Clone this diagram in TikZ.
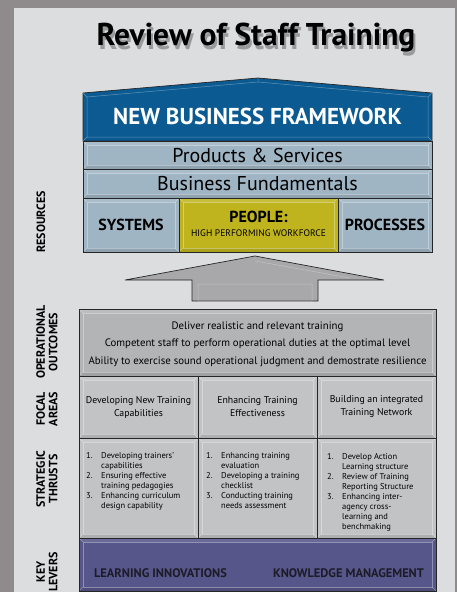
\documentclass[tikz,border=0pt]{standalone}
\usepackage{fontspec}
\setmainfont{PT Sans}
\usetikzlibrary{positioning}
\definecolor{framegrey}{HTML}{8F8B8C}
\definecolor{panelgrey}{HTML}{DCDDDF}
\definecolor{roofblue}{HTML}{0B5A91}
\definecolor{rowblue}{HTML}{9FB5C4}
\definecolor{peopleyellow}{HTML}{BFB41E}
\definecolor{outgrey}{HTML}{B3B4B6}
\definecolor{cellgrey}{HTML}{C2C3C5}
\definecolor{arrowgrey}{HTML}{A8A8AA}
\definecolor{leverpurple}{HTML}{56568A}
\definecolor{levertext}{HTML}{1C1C28}
\begin{document}
\begin{tikzpicture}[x=1pt,y=-1pt]
	\tikzstyle{bevelbox} = [draw=black!85,line width=0.7pt,inner sep=0pt,
		path picture={
			\fill[black,opacity=.10] (path picture bounding box.south west) -- (path picture bounding box.south east)
				-- ++(-4pt,4pt) -- ([shift={(4pt,4pt)}]path picture bounding box.south west) -- cycle;
			\fill[white,opacity=.12] (path picture bounding box.north west) -- (path picture bounding box.north east)
				-- ++(-4pt,-4pt) -- ([shift={(4pt,-4pt)}]path picture bounding box.north west) -- cycle;
			\draw[white,opacity=.35,line width=.5pt] ([shift={(4pt,-4pt)}]path picture bounding box.north west)
				rectangle ([shift={(-4pt,4pt)}]path picture bounding box.south east);
			\draw[white,opacity=.35,line width=.5pt] (path picture bounding box.north west) -- ++(4pt,-4pt);
			\draw[white,opacity=.35,line width=.5pt] (path picture bounding box.north east) -- ++(-4pt,-4pt);
			\draw[white,opacity=.35,line width=.5pt] (path picture bounding box.south west) -- ++(4pt,4pt);
			\draw[white,opacity=.35,line width=.5pt] (path picture bounding box.south east) -- ++(-4pt,4pt);
		}]
	\tikzstyle{rowbox} = [bevelbox,fill=rowblue,minimum width=349pt,font=\fontsize{20}{22}\selectfont]
	\tikzstyle{resbox} = [bevelbox,fill=rowblue,minimum height=54pt,font=\fontsize{16}{18}\selectfont\bfseries]
	\tikzstyle{cellbox} = [bevelbox,fill=cellgrey,minimum width=119pt,align=center,font=\fontsize{9.8}{13}\selectfont]
	\tikzstyle{thrustlist} = [anchor=north west,inner sep=0pt,align=left,font=\fontsize{8.5}{10}\selectfont]
	\tikzstyle{sidelabel} = [rotate=90,align=center,font=\fontsize{12}{12.5}\selectfont\bfseries]
	\tikzstyle{levertitle} = [text=levertext,font=\fontsize{12.4}{14}\selectfont\bfseries]

	% BACKGROUND %
	\fill[framegrey] (0,0) rectangle (457,592);
	\fill[panelgrey] (14,8) rectangle (455,592);
	\useasboundingbox (0,0) rectangle (457,592);

	% TITLE %
	\node[text=black,opacity=.3,font=\fontsize{31.5}{33}\selectfont\bfseries] (titleshadow) at (258,42) {Review of Staff Training};
	\node[font=\fontsize{31.5}{33}\selectfont\bfseries] (title) at (256,38) {Review of Staff Training};

	% FRAMEWORK %
	\filldraw[fill=roofblue,draw=black!85,line width=0.7pt] (83,141) -- (83,93) -- (258,78) -- (432,93) -- (432,141) -- cycle;
	\draw[white,opacity=.35,line width=.5pt] (87,137) -- (87,97) -- (258,82) -- (428,97) -- (428,137) -- cycle;
	\draw[white,opacity=.35,line width=.5pt] (83,93) -- (87,97) (432,93) -- (428,97) (83,141) -- (87,137) (432,141) -- (428,137) (258,78) -- (258,82);
	\node[text=white,font=\fontsize{23}{25}\selectfont\bfseries] (framework) at (257.5,116) {NEW BUSINESS FRAMEWORK};
	\node[rowbox,minimum height=28pt] (products) at (257.5,155) {Products \& Services};
	\node[rowbox,minimum height=29pt] (fundamentals) at (257.5,183.5) {Business Fundamentals};

	% RESOURCES %
	\node[resbox,minimum width=96pt] (systems) at (131,225) {SYSTEMS};
	\node[resbox,fill=peopleyellow,minimum width=159pt] (people) at (258.5,225) {};
	\node[font=\fontsize{16}{18}\selectfont\bfseries] (peopletitle) at (258.5,216.5) {PEOPLE:};
	\node[font=\fontsize{9.5}{10}\selectfont] (peoplesub) at (258.5,233) {HIGH PERFORMING WORKFORCE};
	\node[resbox,minimum width=94pt] (processes) at (385,225) {PROCESSES};

	% ARROW %
	\filldraw[fill=arrowgrey,draw=black!85,line width=0.7pt] (255,256) -- (384,280) -- (318,280) -- (318,301) -- (192,301) -- (192,280) -- (125,280) -- cycle;
	\draw[white,opacity=.3,line width=.5pt] (255,261) -- (350,278) (198,284) rectangle (312,301);

	% OUTCOMES %
	\node[bevelbox,fill=outgrey,minimum width=357pt,minimum height=67pt] (outcomes) at (257.5,342.5) {};
	\node[align=center,font=\fontsize{10.8}{17.5}\selectfont] (outtext) at (257.5,344) {Deliver realistic and relevant training\\Competent staff to perform operational duties at the optimal level\\Ability to exercise sound operational judgment and demostrate resilience};

	% FOCAL AREAS %
	\node[cellbox,minimum height=62pt] (focal1) at (138.5,407) {Developing New Training\\Capabilities};
	\node[cellbox,minimum height=62pt] (focal2) at (257.5,407) {Enhancing Training\\Effectiveness};
	\node[cellbox,minimum height=62pt] (focal3) at (376.5,407) {Building an integrated\\Training Network};

	% STRATEGIC THRUSTS %
	\node[cellbox,minimum height=100pt] (thrust1) at (138.5,488) {};
	\node[cellbox,minimum height=100pt] (thrust2) at (257.5,488) {};
	\node[cellbox,minimum height=100pt] (thrust3) at (376.5,488) {};
	\node[thrustlist] (list1) at (86,451) {\begin{tabular}{@{}p{15pt}@{}l@{}}1. & Developing trainers'\\ & capabilities\\ 2. & Ensuring effective\\ & training pedagogies\\ 3. & Enhancing curriculum\\ & design capability\end{tabular}};
	\node[thrustlist] (list2) at (206,451) {\begin{tabular}{@{}p{15pt}@{}l@{}}1. & Enhancing training\\ & evaluation\\ 2. & Developing a training\\ & checklist\\ 3. & Conducting training\\ & needs assessment\end{tabular}};
	\node[thrustlist] (list3) at (327,452) {\begin{tabular}{@{}p{15pt}@{}l@{}}1. & Develop Action\\ & Learning structure\\ 2. & Review of Training\\ & Reporting Structure\\ 3. & Enhancing inter-\\ & agency cross-\\ & learning and\\ & benchmaking\end{tabular}};

	% KEY LEVERS %
	\node[bevelbox,fill=leverpurple,minimum width=357pt,minimum height=53pt] (levers) at (257.5,564.5) {};
	\node[levertitle] (innovations) at (160.5,573) {LEARNING INNOVATIONS};
	\node[levertitle] (knowledge) at (348.5,573) {KNOWLEDGE MANAGEMENT};

	% SIDE LABELS %
	\node[sidelabel] (lblres) at (41,222) {RESOURCES};
	\node[sidelabel] (lblout) at (47,342) {OPERATIONAL\\OUTCOMES};
	\node[sidelabel] (lblfocal) at (47,409) {FOCAL\\AREAS};
	\node[sidelabel] (lblthrust) at (47,479) {STRATEGIC\\THRUSTS};
	\node[sidelabel] (lbllevers) at (47,572) {KEY\\LEVERS};
\end{tikzpicture}
\end{document}
